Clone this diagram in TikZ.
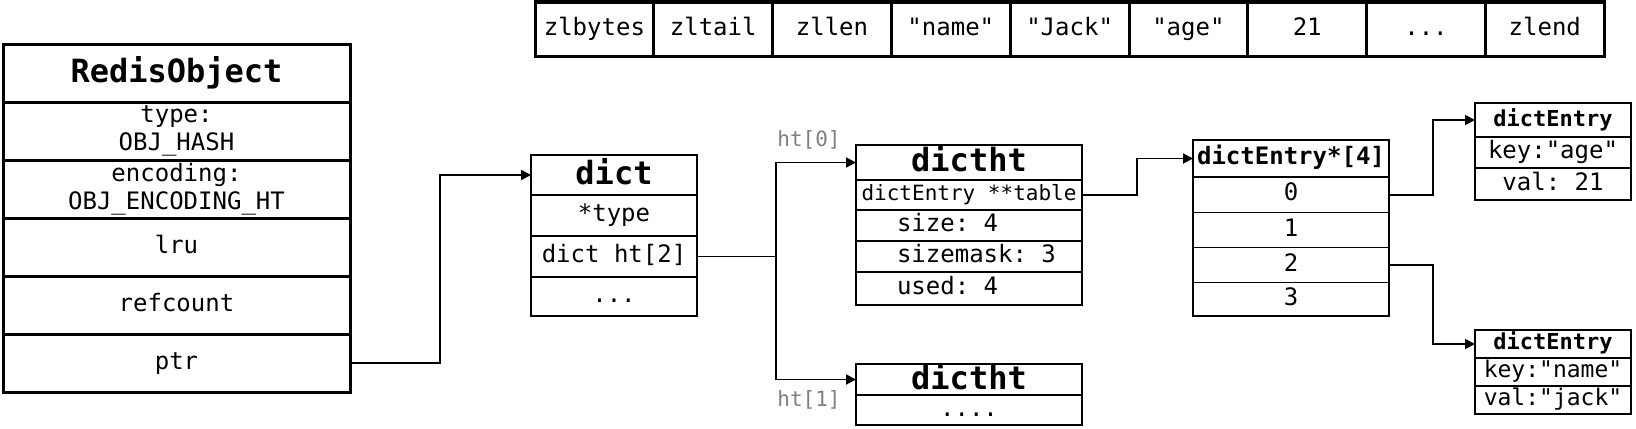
\documentclass[tikz,border=0pt]{standalone}
\usepackage{fontspec}
\setmonofont{DejaVu Sans Mono}
\renewcommand{\familydefault}{\ttdefault}
\usetikzlibrary{arrows.meta,positioning}

\tikzset{
  cell/.style={draw, line width=0.9pt, inner sep=0pt, outer sep=0pt, align=center, font=\fontsize{12}{14}\selectfont},
  line/.style={text height=9pt, text depth=3pt},
  bigcell/.style={cell, line width=1.5pt},
  title/.style={font=\fontsize{16}{18}\bfseries, text height=12pt, text depth=3pt},
  small/.style={font=\fontsize{10.5}{12}\selectfont},
  htlabel/.style={text=gray, font=\fontsize{10.5}{12}\selectfont, inner sep=0pt},
  link/.style={line width=0.9pt, -{Triangle[length=5pt,width=5pt]}},
}
\newcommand{\lfield}[1]{\makebox[72pt][l]{#1}}

\begin{document}
\begin{tikzpicture}[x=0.5pt,y=-0.5pt]
\useasboundingbox (0,0) rectangle (1636,428);

% ziplist
\foreach \txt [count=\i from 0] in {zlbytes,zltail,zllen,"name","Jack","age",21,.{}.{}.,zlend}
  \node[bigcell, line, minimum width=59.4pt, minimum height=27pt] (zl-\i) at (594.4+118.8*\i,29) {\txt};

% redisObject
\node[bigcell, title, minimum width=173.5pt, minimum height=29pt] (ro-1) at (176.5,73) {RedisObject};
\node[bigcell, minimum width=173.5pt, minimum height=29pt, below=0pt of ro-1] (ro-2) {type:\\OBJ\_HASH};
\node[bigcell, minimum width=173.5pt, minimum height=29pt, below=0pt of ro-2] (ro-3) {encoding:\\OBJ\_ENCODING\_HT};
\node[bigcell, line, minimum width=173.5pt, minimum height=29pt, below=0pt of ro-3] (ro-4) {lru};
\node[bigcell, line, minimum width=173.5pt, minimum height=29pt, below=0pt of ro-4] (ro-5) {refcount};
\node[bigcell, line, minimum width=173.5pt, minimum height=29pt, below=0pt of ro-5] (ro-6) {ptr};

% dict
\node[cell, title, minimum width=83pt, minimum height=20pt] (dict-1) at (614,175) {dict};
\node[cell, line, minimum width=83pt, minimum height=20.5pt, below=0pt of dict-1] (dict-2) {*type};
\node[cell, line, minimum width=83pt, minimum height=20.5pt, below=0pt of dict-2] (dict-3) {dict ht[2]};
\node[cell, line, minimum width=83pt, minimum height=19.5pt, below=0pt of dict-3] (dict-4) {...};

% dictht 0
\node[cell, title, minimum width=113pt, minimum height=17.5pt] (ht0-1) at (969,162.5) {dictht};
\node[cell, small, text height=8pt, text depth=2.5pt, minimum width=113pt, minimum height=15pt, below=0pt of ht0-1] (ht0-2) {dictEntry **table};
\node[cell, line, minimum width=113pt, minimum height=15.5pt, below=0pt of ht0-2] (ht0-3) {\lfield{size: 4}};
\node[cell, line, minimum width=113pt, minimum height=15.5pt, below=0pt of ht0-3] (ht0-4) {\lfield{sizemask: 3}};
\node[cell, line, minimum width=113pt, minimum height=16.5pt, below=0pt of ht0-4] (ht0-5) {\lfield{used: 4}};

% dictht 1
\node[cell, title, text depth=2pt, minimum width=113pt, minimum height=15.5pt] (ht1-1) at (969,379.5) {dictht};
\node[cell, line, minimum width=113pt, minimum height=15pt, below=0pt of ht1-1] (ht1-2) {....};

\node[htlabel, anchor=south east] (lbl0) at (841,150) {ht[0]};
\node[htlabel, anchor=north east] (lbl1) at (841,390) {ht[1]};

% table
\node[cell, line, font=\fontsize{12}{14}\bfseries, minimum width=98pt, minimum height=18.5pt] (tab-h) at (1291,158.5) {dictEntry*[4]};
\node[cell, line, minimum width=98pt, minimum height=17.75pt, below=0pt of tab-h] (tab-0) {0};
\node[cell, line, minimum width=98pt, minimum height=17.5pt, below=0pt of tab-0] (tab-1) {1};
\node[cell, line, minimum width=98pt, minimum height=17.5pt, below=0pt of tab-1] (tab-2) {2};
\node[cell, line, minimum width=98pt, minimum height=16.75pt, below=0pt of tab-2] (tab-3) {3};

% entries
\node[cell, line, font=\fontsize{11}{13}\bfseries, minimum width=78pt, minimum height=17pt] (ea-1) at (1553,120) {dictEntry};
\node[cell, line, minimum width=78pt, minimum height=15.5pt, below=0pt of ea-1] (ea-2) {key:"age"};
\node[cell, line, minimum width=78pt, minimum height=16pt, below=0pt of ea-2] (ea-3) {val: 21};

\node[cell, font=\fontsize{11}{13}\bfseries, text height=8pt, text depth=2.5pt, minimum width=78pt, minimum height=14pt] (en-1) at (1553,344) {dictEntry};
\node[cell, font=\fontsize{11.5}{13}\selectfont, text height=8pt, text depth=2.5pt, minimum width=78pt, minimum height=14pt, below=0pt of en-1] (en-2) {key:"name"};
\node[cell, font=\fontsize{11.5}{13}\selectfont, text height=8pt, text depth=2.5pt, minimum width=78pt, minimum height=14pt, below=0pt of en-2] (en-3) {val:"jack"};

% pointers
\draw[link] (ro-6.east) -| (440,270) |- (dict-1.west);
\draw[link] (dict-3.east) -| (776,300) |- (ht0-1.west);
\draw[link] (dict-3.east) -| (776,300) |- (ht1-1.west);
\draw[link] (ht0-2.east) -| (1137,170) |- (tab-h.west);
\draw[link] (tab-0.east) -| (1433,150) |- (ea-1.west);
\draw[link] (tab-2.east) -| (1433,300) |- (en-1.west);
\end{tikzpicture}
\end{document}
